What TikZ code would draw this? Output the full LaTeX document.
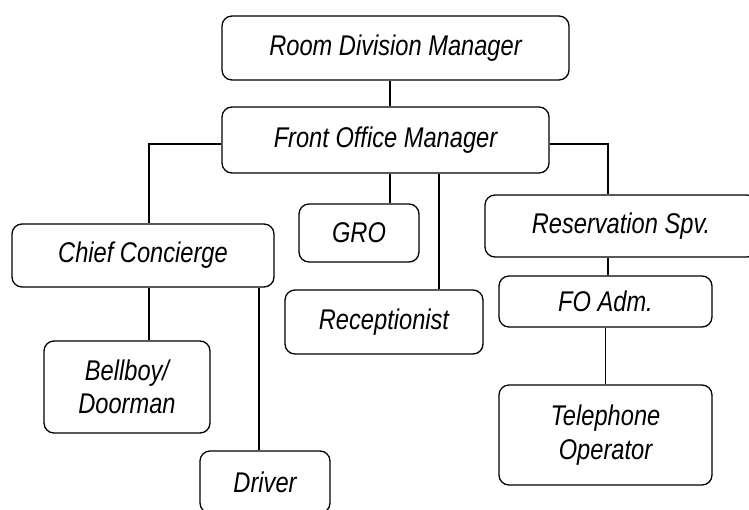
\documentclass[tikz,border=0pt]{standalone}
\usepackage{fontspec}
\setmainfont{Liberation Sans}[FakeStretch=0.83]
\usepackage{tikz}
\usetikzlibrary{positioning}
\usepackage{xcolor}

\begin{document}
\begin{tikzpicture}[x=1pt, y=-1pt,
    post/.style={draw, line width=1.3pt, rounded corners=10pt, inner sep=0pt,
      align=center, font=\fontsize{28.5}{33.5}\selectfont\itshape},
    link/.style={line width=1.3pt}]
        \useasboundingbox (0,0) rectangle (749,509);
        \clip (0,0) rectangle (749,509);
        % top of the chart
        \node[post, minimum width=347pt, minimum height=64pt] (rdm) at (395.5,48) {Room Division Manager};
        \node[post, minimum width=327pt, minimum height=66pt] (fom) at (385.5,140) {Front Office Manager};
        % second row
        \node[post, minimum width=262pt, minimum height=63pt] (cc) at (143,255.5) {Chief Concierge};
        \node[post, minimum width=120pt, minimum height=58pt] (gro) at (359,233) {GRO};
        \node[post, minimum width=198pt, minimum height=64pt] (rec) at (384,322) {Receptionist};
        \node[post, minimum width=272pt, minimum height=62pt] (rsv) at (621,226) {Reservation Spv.};
        % lower posts
        \node[post, minimum width=166pt, minimum height=92pt] (bell) at (127,387) {Bellboy/\\Doorman};
        \node[post, minimum width=130pt, minimum height=62pt] (drv) at (265,482) {Driver};
        \node[post, minimum width=213pt, minimum height=51pt] (adm) at (605.5,301.5) {FO Adm.};
        \node[post, minimum width=213pt, minimum height=100pt] (tel) at (605.5,435) {Telephone\\Operator};
        % connectors
        \draw[link] ([xshift=-5.5pt]rdm.south) -- ([xshift=-5.5pt]rdm.south |- fom.north);
        \draw[link] ([yshift=-4pt]fom.west) -| ([xshift=6pt]cc.north);
        \draw[link] ([yshift=-4pt]fom.east) -| ([xshift=-13pt]rsv.north);
        \draw[link] ([xshift=31pt]gro.north) -- ([xshift=31pt]gro.north |- fom.south);
        \draw[link] ([xshift=55pt]rec.north) -- ([xshift=55pt]rec.north |- fom.south);
        \draw[link] ([xshift=6pt]cc.south) -- ([xshift=6pt]cc.south |- bell.north);
        \draw[link] ([xshift=-6pt]drv.north) -- ([xshift=-6pt]drv.north |- cc.south);
        \draw[link] ([xshift=-13pt]rsv.south) -- ([xshift=-13pt]rsv.south |- adm.north);
        \draw[link] (adm.south) -- (tel.north);
      \end{tikzpicture}
\end{document}
